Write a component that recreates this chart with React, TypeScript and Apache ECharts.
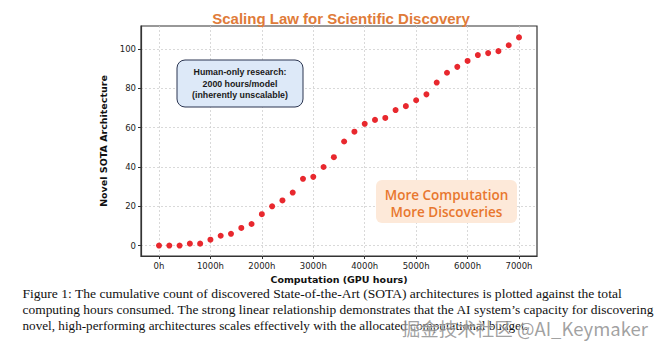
import React, { useEffect, useRef } from "react";
import * as echarts from "echarts";

const hours = [0, 200, 400, 600, 800, 1000, 1200, 1400, 1600, 1800, 2000, 2200, 2400, 2600, 2800, 3000, 3200, 3400, 3600, 3800, 4000, 4200, 4400, 4600, 4800, 5000, 5200, 5400, 5600, 5800, 6000, 6200, 6400, 6600, 6800, 7000];
const sotaCount = [0, 0, 0, 1, 1, 3, 5, 6, 9, 11, 16, 20, 23, 27, 34, 35, 40, 45, 53, 58, 62, 64, 65, 69, 71, 74, 77, 83, 88, 91, 94, 97, 98, 99, 102, 106];
const xTicks = [0, 1000, 2000, 3000, 4000, 5000, 6000, 7000];
const yTicks = [0, 20, 40, 60, 80, 100];
const titleText = "Scaling Law for Scientific Discovery";
const xName = "Computation (GPU hours)";
const yName = "Novel SOTA Architecture";
const boxNote = "Human-only research:\n2000 hours/model\n(inherently unscalable)";
const boxClaim = "More Computation\nMore Discoveries";
const captionLines = [
  "Figure 1: The cumulative count of discovered State-of-the-Art (SOTA) architectures is plotted against the total",
  "computing hours consumed. The strong linear relationship demonstrates that the AI system\u2019s capacity for discovering",
  "novel, high-performing architectures scales effectively with the allocated computational budget.",
];
const watermark = "掘金技术社区 @AI_Keymaker";

export default function App() {
  const ref = useRef<HTMLDivElement>(null);
  useEffect(() => {
    if (!ref.current) return;
    const chart = echarts.init(ref.current, null, { renderer: "svg" });
    const tickFont = { fontFamily: "DejaVu Sans", fontSize: 8.5, color: "#222" };

    // caption layout: fit each line between the left margin and its right end
    const capFont = 13.5;
    const capLeft = 22.5;
    const capEnds = [623, 655, 528];
    const canvas = document.createElement("canvas");
    const ctx = canvas.getContext("2d");
    if (ctx) ctx.font = `${capFont}px "Liberation Serif"`;
    const captionGraphics = captionLines.map((line, i) => {
      const w = ctx ? ctx.measureText(line).width : 600;
      const sx = (capEnds[i] - capLeft) / w;
      return {
        type: "text",
        x: capLeft,
        y: 294 + i * 15.7,
        scaleX: sx,
        style: {
          text: line,
          fontFamily: "Liberation Serif",
          fontSize: capFont,
          fill: "#111",
          align: "left",
          verticalAlign: "middle",
        },
        z: 5,
      };
    });

    chart.setOption({
      animation: false,
      backgroundColor: "#ffffff",
      title: {
        text: titleText,
        left: 336,
        top: 6,
        textAlign: "center",
        textStyle: { fontFamily: "Liberation Sans", fontSize: 15, fontWeight: "bold", color: "#e07b39" },
      },
      grid: {
        left: 141,
        top: 26,
        width: 396,
        height: 230,
        show: true,
        borderColor: "#333",
        borderWidth: 1.2,
        backgroundColor: "transparent",
      },
      xAxis: {
        type: "value",
        min: -350,
        max: 7350,
        name: xName,
        nameLocation: "middle",
        nameGap: 13,
        nameTextStyle: { fontFamily: "DejaVu Sans", fontSize: 9.5, fontWeight: "bold", color: "#111" },
        axisLine: { show: true, onZero: false, lineStyle: { color: "#333", width: 1.2 } },
        axisTick: { show: true, customValues: xTicks, length: 3, lineStyle: { color: "#333" } },
        axisLabel: { customValues: xTicks, formatter: (v: number) => `${v}h`, margin: 5, ...tickFont },
        splitLine: { show: true, lineStyle: { color: "#cfcfcf", width: 0.8, type: [2, 2] } },
      },
      yAxis: {
        type: "value",
        min: -5.3,
        max: 111.8,
        name: yName,
        nameLocation: "middle",
        nameGap: 24,
        nameTextStyle: { fontFamily: "DejaVu Sans", fontSize: 9.5, fontWeight: "bold", color: "#111" },
        axisLine: { show: true, onZero: false, lineStyle: { color: "#333", width: 1.2 } },
        axisTick: { show: true, customValues: yTicks, length: 3, lineStyle: { color: "#333" } },
        axisLabel: { customValues: yTicks, margin: 5, ...tickFont },
        splitLine: { show: true, lineStyle: { color: "#cfcfcf", width: 0.8, type: [2, 2] } },
      },
      series: [
        {
          type: "scatter",
          data: hours.map((h, i) => [h, sotaCount[i]]),
          symbolSize: 6,
          itemStyle: { color: "#e8282e", opacity: 1 },
          z: 5,
        },
      ],
      graphic: [
        {
          type: "rect",
          shape: { x: 177, y: 60, width: 126, height: 47, r: 8 },
          style: { fill: "#dde9f8", stroke: "#2b3550", lineWidth: 1 },
          z: 10,
        },
        {
          type: "text",
          x: 240,
          y: 83.5,
          style: {
            text: boxNote,
            fontFamily: "Liberation Sans",
            fontSize: 8.8,
            fontWeight: "bold",
            lineHeight: 11.7,
            fill: "#1a1a1a",
            align: "center",
            verticalAlign: "middle",
          },
          z: 11,
        },
        {
          type: "rect",
          shape: { x: 376, y: 180, width: 141, height: 43, r: 6 },
          style: { fill: "#fde9d9", stroke: "none" },
          z: 10,
        },
        {
          type: "text",
          x: 446.5,
          y: 203.5,
          style: {
            text: boxClaim,
            fontFamily: "Open Sans",
            fontSize: 13.5,
            fontWeight: 600,
            lineHeight: 16.7,
            fill: "#e8772e",
            align: "center",
            verticalAlign: "middle",
          },
          z: 11,
        },
        ...captionGraphics,
        {
          type: "text",
          x: 648,
          y: 328,
          style: {
            text: watermark,
            fontFamily: "Noto Sans CJK SC",
            fontSize: 18.5,
            fill: "rgba(120,120,120,0.7)",
            stroke: "rgba(255,255,255,0.6)",
            lineWidth: 1,
            align: "right",
            verticalAlign: "middle",
          },
          z: 20,
        },
      ],
    });
    return () => chart.dispose();
  }, []);
  return <div ref={ref} style={{ position: "fixed", left: 0, top: 0, width: 661, height: 353 }} />;
}
